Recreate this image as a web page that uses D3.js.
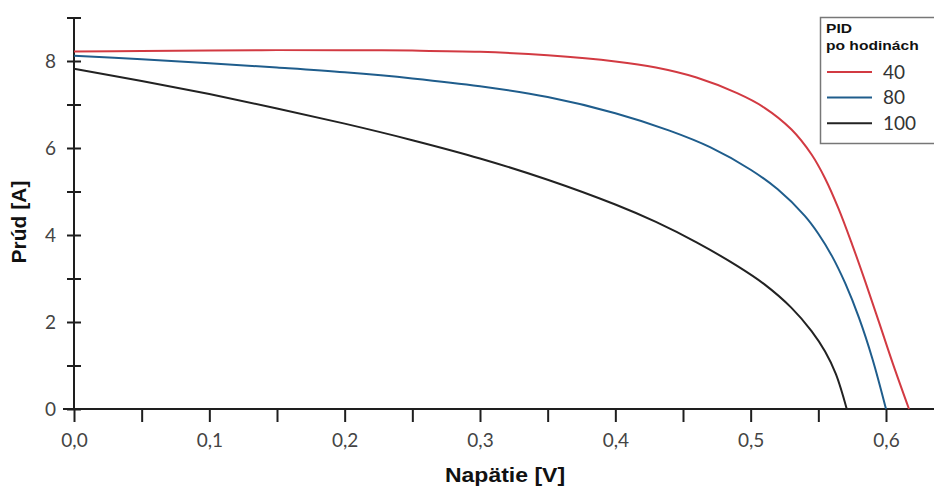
<!DOCTYPE html>
<html>
<head>
<meta charset="utf-8">
<script src="https://cdn.jsdelivr.net/npm/d3@7"></script>
<style>
  html, body { margin: 0; padding: 0; background: #fff; }
  svg { display: block; }
</style>
</head>
<body>
<svg id="chart" width="934" height="488"></svg>
<script>
// I-V curves of a solar cell after PID exposure (hours)
const voltage40 = [0, 0.05, 0.1, 0.15, 0.2, 0.25, 0.3, 0.35, 0.4, 0.43, 0.46, 0.49, 0.51, 0.53, 0.545, 0.555, 0.565, 0.575, 0.585, 0.595, 0.605, 0.617];
const current40 = [8.22, 8.23, 8.24, 8.25, 8.25, 8.24, 8.21, 8.13, 7.99, 7.85, 7.62, 7.26, 6.93, 6.43, 5.85, 5.3, 4.6, 3.78, 2.9, 1.98, 1.05, 0];

const voltage80 = [0, 0.05, 0.1, 0.15, 0.2, 0.25, 0.3, 0.35, 0.4, 0.44, 0.47, 0.5, 0.52, 0.54, 0.55, 0.56, 0.57, 0.58, 0.59, 0.6];
const current80 = [8.12, 8.04, 7.95, 7.85, 7.74, 7.6, 7.42, 7.17, 6.8, 6.4, 6.02, 5.5, 5.05, 4.44, 4.03, 3.52, 2.88, 2.1, 1.15, 0];

const voltage100 = [0, 0.05, 0.1, 0.15, 0.2, 0.25, 0.3, 0.35, 0.4, 0.43, 0.46, 0.49, 0.51, 0.53, 0.545, 0.555, 0.563, 0.571];
const current100 = [7.82, 7.54, 7.24, 6.91, 6.56, 6.18, 5.76, 5.27, 4.7, 4.3, 3.83, 3.29, 2.87, 2.33, 1.79, 1.32, 0.8, 0];

const seriesNames = ["40", "80", "100"];
const seriesColors = ["#d23a42", "#1f5d8c", "#222222"];
const yTickLabels = [0, 2, 4, 6, 8];
const xTickLabels = [0, 0.1, 0.2, 0.3, 0.4, 0.5, 0.6];

const series = [
  { name: seriesNames[0], color: seriesColors[0], pts: voltage40.map((v, i) => [v, current40[i]]) },
  { name: seriesNames[1], color: seriesColors[1], pts: voltage80.map((v, i) => [v, current80[i]]) },
  { name: seriesNames[2], color: seriesColors[2], pts: voltage100.map((v, i) => [v, current100[i]]) }
];

const svg = d3.select("#chart");
const x = d3.scaleLinear().domain([0, 0.6]).range([74, 886]);
const y = d3.scaleLinear().domain([0, 8]).range([409, 61]);

const axisColor = "#1e1e1e";
const labelFont = "Lato, 'Open Sans', sans-serif";
const titleFont = "Arial, 'Liberation Sans', sans-serif";

// Y axis: ticks at every unit crossing the axis line, labels on even values
const yAxis = d3.axisLeft(y)
  .tickValues(d3.range(0, 10))
  .tickSize(7)
  .tickPadding(0)
  .tickFormat(d => yTickLabels.includes(d) ? d : "");
const gy = svg.append("g").attr("transform", `translate(${x(0)},0)`).call(yAxis);
gy.select(".domain").remove();
gy.selectAll(".tick line").attr("x1", -7).attr("x2", 7).attr("stroke", axisColor).attr("stroke-width", 2);
gy.selectAll(".tick text")
  .attr("x", -18).attr("dy", "0.36em")
  .attr("font-family", labelFont).attr("font-size", 19).attr("fill", "#444");
svg.append("line")
  .attr("x1", x(0)).attr("x2", x(0))
  .attr("y1", y(0)).attr("y2", y(9))
  .attr("stroke", axisColor).attr("stroke-width", 2);

// X axis: ticks every 0.05 V hanging below the line
const xAxis = d3.axisBottom(x)
  .tickValues(d3.range(0, 13).map(i => i * 0.05))
  .tickSize(13)
  .tickFormat(d => {
    const hit = xTickLabels.find(t => Math.abs(t - d) < 1e-9);
    return hit === undefined ? "" : d3.format(".1f")(hit).replace(".", ",");
  });
const gx = svg.append("g").attr("transform", `translate(0,${y(0)})`).call(xAxis);
gx.select(".domain").remove();
gx.selectAll(".tick line").attr("stroke", axisColor).attr("stroke-width", 2);
gx.selectAll(".tick text")
  .attr("y", 38).attr("dy", 0)
  .attr("font-family", labelFont).attr("font-size", 19).attr("fill", "#444");
svg.append("line")
  .attr("x1", 63).attr("x2", 934)
  .attr("y1", y(0)).attr("y2", y(0))
  .attr("stroke", axisColor).attr("stroke-width", 2);

// Curves
const line = d3.line()
  .x(d => x(d[0]))
  .y(d => y(d[1]))
  .curve(d3.curveCatmullRom.alpha(0.5));

svg.append("g").selectAll("path")
  .data(series)
  .join("path")
  .attr("d", d => line(d.pts))
  .attr("fill", "none")
  .attr("stroke", d => d.color)
  .attr("stroke-width", 2);

// Axis titles
svg.append("text")
  .attr("transform", "translate(505,482) scale(1.15,1)")
  .attr("text-anchor", "middle")
  .attr("font-family", titleFont)
  .attr("font-weight", "bold").attr("font-size", 20).attr("fill", "#111")
  .text("Napätie [V]");

svg.append("text")
  .attr("transform", "translate(26,222) rotate(-90)")
  .attr("text-anchor", "middle")
  .attr("font-family", titleFont)
  .attr("font-weight", "bold").attr("font-size", 21).attr("fill", "#111")
  .text("Prúd [A]");

// Legend
const lg = svg.append("g");
lg.append("rect")
  .attr("x", 820.5).attr("y", 17.5)
  .attr("width", 130).attr("height", 126)
  .attr("fill", "#fff").attr("stroke", "#777").attr("stroke-width", 1.5);
lg.append("text")
  .attr("transform", "translate(826,33) scale(1.3,1)")
  .attr("font-family", titleFont)
  .attr("font-weight", "bold").attr("font-size", 12).attr("fill", "#111")
  .text("PID");
lg.append("text")
  .attr("transform", "translate(826,50) scale(1.3,1)")
  .attr("font-family", titleFont)
  .attr("font-weight", "bold").attr("font-size", 12).attr("fill", "#111")
  .text("po hodinách");

const legendRow = lg.selectAll(".row")
  .data(series)
  .join("g")
  .attr("class", "row")
  .attr("transform", (d, i) => `translate(0,${72 + i * 25.6})`);
legendRow.append("line")
  .attr("x1", 827).attr("x2", 872)
  .attr("stroke", d => d.color).attr("stroke-width", 2);
legendRow.append("text")
  .attr("x", 883).attr("dy", "0.36em")
  .attr("font-family", labelFont).attr("font-size", 19).attr("fill", "#333")
  .text(d => d.name);
</script>
</body>
</html>
